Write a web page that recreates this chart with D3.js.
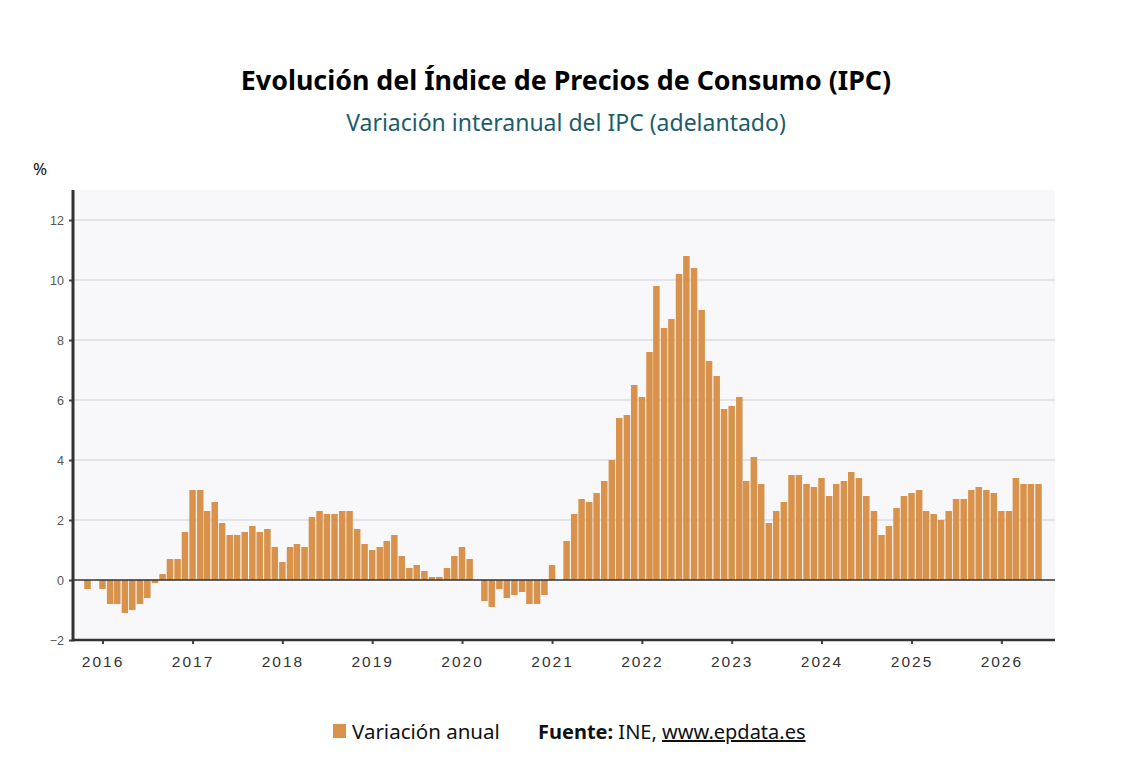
<!DOCTYPE html>
<html>
<head>
<meta charset="utf-8">
<script src="https://cdn.jsdelivr.net/npm/d3@7"></script>
<style>
  body { margin: 0; background: #fff; }
  svg { display: block; }
</style>
</head>
<body>
<script>
// monthly data, first month is Nov 2015
var startYear = 2015, startMonth = 10;
var values = [
  -0.3, 0.0,
  -0.3, -0.8, -0.8, -1.1, -1.0, -0.8, -0.6, -0.1, 0.2, 0.7, 0.7, 1.6,
  3.0, 3.0, 2.3, 2.6, 1.9, 1.5, 1.5, 1.6, 1.8, 1.6, 1.7, 1.1,
  0.6, 1.1, 1.2, 1.1, 2.1, 2.3, 2.2, 2.2, 2.3, 2.3, 1.7, 1.2,
  1.0, 1.1, 1.3, 1.5, 0.8, 0.4, 0.5, 0.3, 0.1, 0.1, 0.4, 0.8,
  1.1, 0.7, 0.0, -0.7, -0.9, -0.3, -0.6, -0.5, -0.4, -0.8, -0.8, -0.5,
  0.5, 0.0, 1.3, 2.2, 2.7, 2.6, 2.9, 3.3, 4.0, 5.4, 5.5, 6.5,
  6.1, 7.6, 9.8, 8.4, 8.7, 10.2, 10.8, 10.4, 9.0, 7.3, 6.8, 5.7,
  5.8, 6.1, 3.3, 4.1, 3.2, 1.9, 2.3, 2.6, 3.5, 3.5, 3.2, 3.1,
  3.4, 2.8, 3.2, 3.3, 3.6, 3.4, 2.8, 2.3, 1.5, 1.8, 2.4, 2.8,
  2.9, 3.0, 2.3, 2.2, 2.0, 2.3, 2.7, 2.7, 3.0, 3.1, 3.0, 2.9,
  2.3, 2.3, 3.4, 3.2, 3.2, 3.2
];
var yTicks = [-2, 0, 2, 4, 6, 8, 10, 12];
var yearTicks = [2016, 2017, 2018, 2019, 2020, 2021, 2022, 2023, 2024, 2025, 2026];

var data = values.map(function(v, i) {
  return { date: new Date(startYear, startMonth + i, 1), value: v };
});

var svgWidth = 1132, svgHeight = 777;
var margin = { top: 190, left: 73, right: 77, bottom: 137 };
var chartWidth = svgWidth - margin.left - margin.right;
var chartHeight = svgHeight - margin.top - margin.bottom;

var svg = d3.select('body').append('svg')
  .attr('width', svgWidth)
  .attr('height', svgHeight)
  .style('font-family', '"Noto Sans", "Open Sans", sans-serif');

// titles
svg.append('text')
  .attr('x', 566).attr('y', 90)
  .attr('text-anchor', 'middle')
  .style('font-size', '26.8px').style('font-weight', 'bold').style('fill', '#000')
  .text('Evolución del Índice de Precios de Consumo (IPC)');

svg.append('text')
  .attr('x', 566).attr('y', 131)
  .attr('text-anchor', 'middle')
  .style('font-size', '23px').style('fill', '#1c5d6c')
  .text('Variación interanual del IPC (adelantado)');

svg.append('text')
  .attr('x', 33).attr('y', 175)
  .style('font-size', '17px').style('fill', '#111')
  .text('%');

var chart = svg.append('g')
  .attr('transform', 'translate(' + margin.left + ',' + margin.top + ')');

chart.append('rect')
  .attr('width', chartWidth).attr('height', chartHeight)
  .attr('fill', '#f8f8fa');

var x = d3.scaleTime()
  .domain([new Date(2015, 8, 3), new Date(2026, 7, 7)])
  .range([0, chartWidth]);

var y = d3.scaleLinear().domain([-2, 13]).range([chartHeight, 0]);

// gridlines
chart.selectAll('.grid')
  .data(yTicks.filter(function(d) { return d > -2 && d !== 0; }))
  .enter().append('line')
  .attr('x1', 0).attr('x2', chartWidth)
  .attr('y1', function(d) { return y(d); })
  .attr('y2', function(d) { return y(d); })
  .attr('stroke', '#dddde2').attr('stroke-width', 1.5);

var barWidth = 6.5;
chart.selectAll('.bar')
  .data(data)
  .enter().append('rect')
  .attr('x', function(d) { return x(d.date) - barWidth / 2; })
  .attr('y', function(d) { return y(Math.max(0, d.value)); })
  .attr('width', barWidth)
  .attr('height', function(d) { return Math.abs(y(d.value) - y(0)); })
  .attr('fill', '#d8924b');

// zero line
chart.append('line')
  .attr('x1', 0).attr('x2', chartWidth)
  .attr('y1', y(0)).attr('y2', y(0))
  .attr('stroke', '#333').attr('stroke-width', 1.5);

// y axis
var leftAxis = d3.axisLeft(y).tickValues(yTicks).tickSize(3).tickPadding(6)
  .tickFormat(function(d) { return d < 0 ? '\u2212' + Math.abs(d) : d; });
var gy = chart.append('g').call(leftAxis);
gy.select('.domain').remove();
gy.selectAll('.tick line').attr('stroke', '#444').attr('stroke-width', 2).attr('x1', -4).attr('x2', -1);
gy.selectAll('.tick text')
  .style('font-family', '"Liberation Sans", Arial, sans-serif')
  .style('font-size', '12.5px').style('fill', '#555');

chart.append('line')
  .attr('x1', 0).attr('x2', 0).attr('y1', 0).attr('y2', chartHeight + 1.5)
  .attr('stroke', '#333').attr('stroke-width', 3);

// x axis
var bottomAxis = d3.axisBottom(x)
  .tickValues(yearTicks.map(function(yr) { return new Date(yr, 0, 1); }))
  .tickSize(4).tickPadding(12)
  .tickFormat(d3.timeFormat('%Y'));
var gx = chart.append('g')
  .attr('transform', 'translate(0,' + chartHeight + ')')
  .call(bottomAxis);
gx.select('.domain').remove();
gx.selectAll('.tick line').attr('stroke', '#444').attr('stroke-width', 2);
gx.selectAll('.tick text')
  .style('font-size', '15.5px').style('fill', '#333').style('letter-spacing', '2px');

chart.append('line')
  .attr('x1', 0).attr('x2', chartWidth).attr('y1', chartHeight).attr('y2', chartHeight)
  .attr('stroke', '#333').attr('stroke-width', 2.5);

// legend
var legend = svg.append('g');
legend.append('rect')
  .attr('x', 333).attr('y', 724).attr('width', 13).attr('height', 14)
  .attr('fill', '#d8924b');
legend.append('text')
  .attr('x', 352).attr('y', 739)
  .style('font-size', '20.5px').style('fill', '#111')
  .text('Variación anual');

var src = legend.append('text')
  .attr('x', 538).attr('y', 739)
  .style('font-size', '20px').style('fill', '#111');
src.append('tspan').style('font-weight', 'bold').text('Fuente:');
src.append('tspan').text(' INE, ');
src.append('tspan').style('text-decoration', 'underline').text('www.epdata.es');
</script>
</body>
</html>
